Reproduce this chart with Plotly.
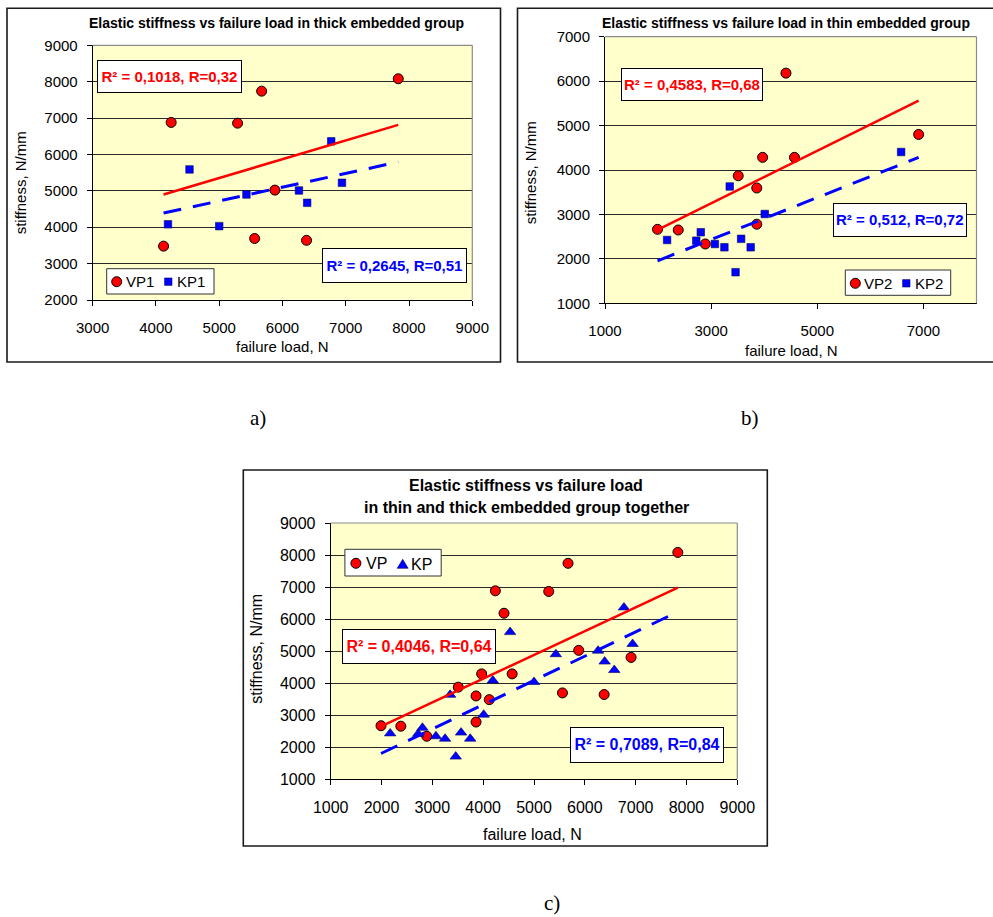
import numpy as np
import plotly.graph_objects as go

W, H = 993, 917
FONT = "Liberation Sans, Arial, sans-serif"
SERIF = "Liberation Serif, Times New Roman, serif"

# ---------------- data ----------------
# a) thick embedded group
vp1_load = [4120, 4240, 5290, 5670, 5560, 5880, 6380, 7830]
vp1_stiff = [3480, 6880, 6860, 7740, 3690, 5020, 3640, 8080]
kp1_load = [4190, 4530, 5000, 5430, 6260, 6390, 6770, 6940]
kp1_stiff = [4080, 5590, 4030, 4900, 5010, 4670, 6360, 5220]

# b) thin embedded group
vp2_load = [1990, 2380, 2890, 3510, 3860, 3860, 3970, 4570, 4410, 6910]
vp2_stiff = [2665, 2650, 2335, 3870, 3595, 2780, 4285, 4285, 6180, 4800]
kp2_load = [2170, 2720, 2805, 3070, 3250, 3350, 3460, 3565, 3745, 4010, 6580]
kp2_stiff = [2425, 2410, 2600, 2335, 2260, 3630, 1700, 2450, 2260, 3010, 4405]

# c) both groups together
vp_load = vp1_load + vp2_load
vp_stiff = vp1_stiff + vp2_stiff
kp_load = kp1_load + kp2_load
kp_stiff = kp1_stiff + kp2_stiff

titles = ["Elastic stiffness vs failure load in thick embedded group",
          "Elastic stiffness vs failure load in thin embedded group",
          "Elastic stiffness vs failure load",
          "in thin and thick embedded group together"]
x_title = "failure load, N"
y_title = "stiffness, N/mm"
vp_fit_labels = ["R² = 0,1018, R=0,32", "R² = 0,4583, R=0,68", "R² = 0,4046, R=0,64"]
kp_fit_labels = ["R² = 0,2645, R=0,51", "R² = 0,512, R=0,72", "R² = 0,7089, R=0,84"]
legend_names = [("VP1", "KP1"), ("VP2", "KP2"), ("VP", "KP")]
panel_labels = ["a)", "b)", "c)"]

x_ranges = [(3000, 9000), (1000, 8000), (1000, 9000)]
x_ticks = [[3000, 4000, 5000, 6000, 7000, 8000, 9000], [1000, 3000, 5000, 7000],
           [1000, 2000, 3000, 4000, 5000, 6000, 7000, 8000, 9000]]
y_ranges = [(2000, 9000), (1000, 7000), (1000, 9000)]

# ---------------- layout geometry (pixels) ----------------
def fx(px):
    return px / W

def fy(py):
    return 1 - py / H

plot_boxes = [(92.7, 472.3, 45.3, 300.0), (605.0, 976.5, 36.7, 303.3), (330.7, 737.3, 523.0, 779.0)]
outer_boxes = [(7, 500.5, 8.3, 362), (517.5, 996, 8.3, 362), (243.3, 767.3, 470, 846)]
fsizes = [15, 15, 16]

RED = "#FF0000"
BLUE = "#0000FF"

fig = go.Figure()

groups = [
    (vp1_load, vp1_stiff, kp1_load, kp1_stiff, "square"),
    (vp2_load, vp2_stiff, kp2_load, kp2_stiff, "square"),
    (vp_load, vp_stiff, kp_load, kp_stiff, "triangle-up"),
]

layout_axes = {}
shapes = []
annotations = []

for i, (vx, vy, kx, ky, ksym) in enumerate(groups):
    n = "" if i == 0 else str(i + 1)
    xa, ya = "x" + n, "y" + n
    L, R, T, B = plot_boxes[i]
    fs = fsizes[i]
    vname, kname = legend_names[i]

    # scatter points
    fig.add_trace(go.Scatter(x=vx, y=vy, mode="markers", name=vname, xaxis=xa, yaxis=ya,
                             marker=dict(symbol="circle", size=10, color=RED,
                                         line=dict(color="black", width=1)),
                             showlegend=False))
    ksize = 7.5 if ksym == "square" else 10
    fig.add_trace(go.Scatter(x=kx, y=ky, mode="markers", name=kname, xaxis=xa, yaxis=ya,
                             marker=dict(symbol=ksym, size=ksize, color=BLUE,
                                         line=dict(color="#000066", width=0.6)),
                             showlegend=False))
    # linear trend lines (least squares), drawn over the VP load range
    xs = np.array([min(vx), max(vx)], dtype=float)
    pv = np.polyfit(vx, vy, 1)
    pk = np.polyfit(kx, ky, 1)
    fig.add_trace(go.Scatter(x=xs, y=np.polyval(pv, xs), mode="lines", xaxis=xa, yaxis=ya,
                             line=dict(color=RED, width=2.5), showlegend=False,
                             name="Linear (" + vname + ")"))
    fig.add_trace(go.Scatter(x=xs, y=np.polyval(pk, xs), mode="lines", xaxis=xa, yaxis=ya,
                             line=dict(color=BLUE, width=3, dash="18px,12px"), showlegend=False,
                             name="Linear (" + kname + ")"))

    common = dict(showline=True, linecolor="black", linewidth=1, ticks="outside", ticklen=5,
                  tickwidth=1, tickcolor="black", zeroline=False, fixedrange=True, automargin=False,
                  tickfont=dict(family=FONT, size=fs, color="black"))
    layout_axes["xaxis" + n] = dict(common, domain=[fx(L), fx(R)], range=list(x_ranges[i]),
                                    tickmode="array", tickvals=x_ticks[i], showgrid=False,
                                    anchor=ya, ticklabelstandoff=9)
    layout_axes["yaxis" + n] = dict(common, domain=[fy(B), fy(T)], range=list(y_ranges[i]),
                                    dtick=1000, tick0=0, showgrid=True, gridcolor="#2a2a2a",
                                    gridwidth=1, anchor=xa, ticklabelstandoff=6)
    # grey plot-area border (top / right)
    shapes.append(dict(type="line", xref=xa + " domain", yref=ya + " domain", x0=0, x1=1, y0=1, y1=1,
                       line=dict(color="#8c8c8c", width=1.2)))
    shapes.append(dict(type="line", xref=xa + " domain", yref=ya + " domain", x0=1, x1=1, y0=0, y1=1,
                       line=dict(color="#8c8c8c", width=1.2)))
    # outer chart frame
    oL, oR, oT, oB = outer_boxes[i]
    shapes.append(dict(type="rect", xref="paper", yref="paper", x0=fx(oL), x1=fx(oR), y0=fy(oB), y1=fy(oT),
                       line=dict(color="#1a1a1a", width=1.6), fillcolor="rgba(0,0,0,0)", layer="above"))


def ann(text, px, py, size, color="black", family=FONT, xanchor="center", weight="normal", **kw):
    d = dict(text=text, x=fx(px), y=fy(py), xref="paper", yref="paper", xanchor=xanchor,
             yanchor="middle", showarrow=False,
             font=dict(family=family, size=size, color=color, weight=weight))
    d.update(kw)
    return d


def fit_box(text, cx, cy, w, h, color, size):
    return ann(text, cx, cy, size, color=color, weight="bold", bgcolor="white", bordercolor="black",
               borderwidth=1, borderpad=1, width=w - 4, height=h - 4, align="center")


# titles
annotations.append(ann(titles[0], 276, 23, 14, weight="bold"))
annotations.append(ann(titles[1], 786, 22.5, 14, weight="bold"))
annotations.append(ann(titles[2], 526, 485.5, 16, weight="bold"))
annotations.append(ann(titles[3], 526, 507, 16, weight="bold"))
# axis titles
annotations.append(ann(x_title, 282.3, 346.7, 15))
annotations.append(ann(x_title, 791.7, 350.7, 15))
annotations.append(ann(x_title, 532.4, 834.3, 16))
annotations.append(ann(y_title, 20, 183.3, 15, textangle=-90))
annotations.append(ann(y_title, 530, 173.3, 15, textangle=-90))
annotations.append(ann(y_title, 256.5, 649.3, 16, textangle=-90))
# regression boxes
annotations.append(fit_box(vp_fit_labels[0], 169.5, 76.5, 145, 33, RED, 15))
annotations.append(fit_box(kp_fit_labels[0], 394.3, 265.5, 145, 34.5, BLUE, 15))
annotations.append(fit_box(vp_fit_labels[1], 691.7, 84.7, 142, 33, RED, 15))
annotations.append(fit_box(kp_fit_labels[1], 900, 220, 133.5, 33.5, BLUE, 15))
annotations.append(fit_box(vp_fit_labels[2], 418.8, 646.5, 154, 35, RED, 16))
annotations.append(fit_box(kp_fit_labels[2], 646.6, 744.5, 154, 35.6, BLUE, 16))
# panel labels
annotations.append(ann(panel_labels[0], 258, 418, 21, family=SERIF))
annotations.append(ann(panel_labels[1], 750, 418, 21, family=SERIF))
annotations.append(ann(panel_labels[2], 552, 903, 21, family=SERIF))

# hand-made legends: (box L, R, T, B), circle centre, VP text x, symbol centre, KP text x, symbol, font
legends = [
    ((106.7, 214, 268.7, 294), (116.7, 281.7), 126, (168.3, 281.7), 177.3, "square", 15),
    ((845.3, 950.7, 270, 295.3), (855.3, 283.3), 864.3, (906.3, 283.3), 915, "square", 15),
    ((344.9, 441.2, 549.3, 576), (355.9, 563.3), 365.6, (402.7, 564.3), 411, "triangle", 16),
]
for i, (box, c1, t1, c2, t2, sym, fs) in enumerate(legends):
    bL, bR, bT, bB = box
    shapes.append(dict(type="rect", xref="paper", yref="paper", x0=fx(bL), x1=fx(bR), y0=fy(bB), y1=fy(bT),
                       line=dict(color="#333333", width=1), fillcolor="white", layer="above"))
    shapes.append(dict(type="circle", xref="paper", yref="paper", xsizemode="pixel", ysizemode="pixel",
                       xanchor=fx(c1[0]), yanchor=fy(c1[1]), x0=-5, x1=5, y0=-5, y1=5,
                       fillcolor=RED, line=dict(color="black", width=1), layer="above"))
    if sym == "square":
        shapes.append(dict(type="rect", xref="paper", yref="paper", xsizemode="pixel", ysizemode="pixel",
                           xanchor=fx(c2[0]), yanchor=fy(c2[1]), x0=-3.7, x1=3.7, y0=-3.7, y1=3.7,
                           fillcolor=BLUE, line=dict(color="#000066", width=0.6), layer="above"))
    else:
        shapes.append(dict(type="path", xref="paper", yref="paper", xsizemode="pixel", ysizemode="pixel",
                           xanchor=fx(c2[0]), yanchor=fy(c2[1]), path="M-5.5,-4 L5.5,-4 L0,5 Z",
                           fillcolor=BLUE, line=dict(color="#000066", width=0.6), layer="above"))
    vname, kname = legend_names[i]
    annotations.append(ann(vname, t1 - 2, c1[1], fs, xanchor="left"))
    annotations.append(ann(kname, t2 - 2, c2[1], fs, xanchor="left"))

fig.update_layout(
    width=W, height=H, autosize=False,
    margin=dict(l=0, r=0, t=0, b=0, pad=0, autoexpand=False),
    paper_bgcolor="white", plot_bgcolor="#FFFFCC",
    font=dict(family=FONT, size=15, color="black"),
    showlegend=False,
    shapes=shapes, annotations=annotations,
    **layout_axes,
)

# the page's default 8px body margin would shift the whole chart; remove it
fig.write_html("out.html", config={"displayModeBar": False},
               post_script="document.body.style.margin='0';document.body.style.overflow='hidden';")
